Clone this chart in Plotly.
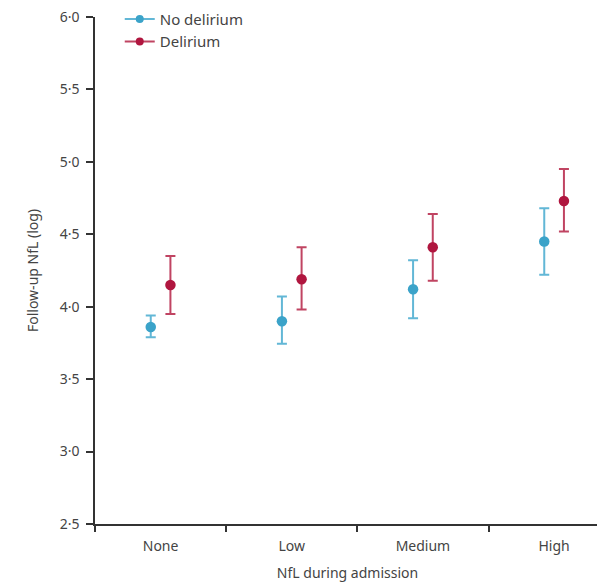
import plotly.graph_objects as go

categories = ["None", "Low", "Medium", "High"]
series_names = ["No delirium", "Delirium"]
no_delirium_mean = [3.86, 3.90, 4.12, 4.45]
no_delirium_upper = [3.94, 4.07, 4.32, 4.68]
no_delirium_lower = [3.79, 3.745, 3.92, 4.22]
delirium_mean = [4.15, 4.19, 4.41, 4.73]
delirium_upper = [4.35, 4.41, 4.64, 4.95]
delirium_lower = [3.95, 3.98, 4.18, 4.52]
y_ticks = [2.5, 3.0, 3.5, 4.0, 4.5, 5.0, 5.5, 6.0]
y_tick_labels = ["2·5", "3·0", "3·5", "4·0", "4·5", "5·0", "5·5", "6·0"]

blue = "#3BA3C9"
blue_err = "#62B7D6"
red = "#B0163F"
red_err = "#C04462"
offset = 0.075
font = "Noto Sans"
txt = "#444444"
axc = "#333333"

fig = go.Figure()

def add_series(name, mean, upper, lower, color, ecolor, dx):
    xs = [i + dx for i in range(len(categories))]
    fig.add_trace(go.Scatter(
        x=xs, y=mean, mode="markers", name=name, showlegend=False,
        marker=dict(color=color, size=10.5),
        error_y=dict(type="data", symmetric=False,
                     array=[u - m for u, m in zip(upper, mean)],
                     arrayminus=[m - l for m, l in zip(mean, lower)],
                     color=ecolor, thickness=2, width=5),
    ))
    fig.add_trace(go.Scatter(
        x=[None], y=[None], mode="lines+markers", name=name,
        line=dict(color=ecolor, width=2), marker=dict(color=color, size=8),
    ))

add_series(series_names[0], no_delirium_mean, no_delirium_upper, no_delirium_lower, blue, blue_err, -offset)
add_series(series_names[1], delirium_mean, delirium_upper, delirium_lower, red, red_err, offset)

fig.update_layout(
    width=605, height=586,
    margin=dict(l=87, r=13, t=9, b=70, autoexpand=False),
    paper_bgcolor="white", plot_bgcolor="white",
    font=dict(family=font, size=14, color=txt),
    legend=dict(x=0.049, y=1.028, xanchor="left", yanchor="top",
                bgcolor="rgba(0,0,0,0)", font=dict(size=15, color=txt),
                itemwidth=30, tracegroupgap=0),
    xaxis=dict(
        range=[-0.5, 3.35], showgrid=False, zeroline=False,
        showline=True, linecolor=axc, linewidth=2, automargin=False,
        tickvals=list(range(len(categories))), ticktext=categories,
        ticks="outside", ticklen=8, tickcolor="rgba(0,0,0,0)",
        tickfont=dict(size=14, color=txt), ticklabeloverflow="allow",
        minor=dict(tick0=-0.5, dtick=1, ticks="outside", ticklen=6,
                   tickwidth=2, tickcolor=axc, showgrid=False),
        title=dict(text="NfL during admission", font=dict(size=14, color=txt), standoff=14),
    ),
    yaxis=dict(
        range=[2.5, 6.0], showgrid=False, zeroline=False,
        showline=True, linecolor=axc, linewidth=2, automargin=False,
        tickvals=y_ticks, ticktext=[t + "\u00a0" for t in y_tick_labels],
        ticks="outside", ticklen=7, tickwidth=2, tickcolor=axc,
        tickfont=dict(size=14, color=txt), ticklabeloverflow="allow",
        title=dict(text="Follow-up NfL (log)", font=dict(size=14, color=txt), standoff=18),
    ),
)

fig.write_html("out.html")
